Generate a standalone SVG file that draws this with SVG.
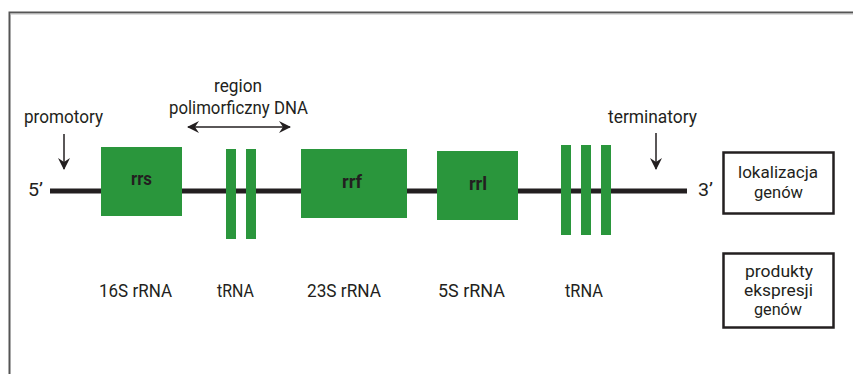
<svg xmlns="http://www.w3.org/2000/svg" width="853" height="374" viewBox="0 0 853 374">
<defs>
<style>
.t{font-family:Roboto,"Liberation Sans",sans-serif;font-size:19px;fill:#231f20}
.m{font-family:Roboto,"Liberation Sans",sans-serif;font-size:17px;fill:#231f20}
.s{font-family:Roboto,"Liberation Sans",sans-serif;font-size:16px;fill:#231f20}
.b{font-family:Roboto,"Liberation Sans",sans-serif;font-size:19px;font-weight:bold;fill:#231f20}
.g{fill:#2a963c}
.ln{stroke:#231f20;fill:none}
.box{fill:#fff;stroke:#231f20;stroke-width:2.5}
</style>
<marker id="ah" viewBox="0 0 12 12" refX="11" refY="6" markerWidth="12" markerHeight="12" markerUnits="userSpaceOnUse" orient="auto-start-reverse">
<path d="M0,0 L12,6 L0,12 L4,6 Z" fill="#231f20"/>
</marker>
</defs>
<rect width="853" height="374" fill="#fff"/>
<path d="M9.5,374 V12.5 H853" stroke="#555" stroke-width="2" fill="none"/>
<line x1="10" y1="14" x2="853" y2="14" stroke="#bbb" stroke-width="1"/>

<g id="connectors">
<line class="ln" x1="50" y1="191" x2="687" y2="191" stroke-width="5"/>
<line class="ln" x1="64" y1="134" x2="64" y2="169" stroke-width="1.5" marker-end="url(#ah)"/>
<line class="ln" x1="656" y1="133" x2="656" y2="169" stroke-width="1.5" marker-end="url(#ah)"/>
<line class="ln" x1="188" y1="127" x2="290" y2="127" stroke-width="1.5" marker-start="url(#ah)" marker-end="url(#ah)"/>
</g>

<g id="label-5">
<text class="t" x="28" y="196" textLength="15" lengthAdjust="spacingAndGlyphs">5’</text>
</g>
<g id="label-3">
<text class="t" x="698" y="196" textLength="15" lengthAdjust="spacingAndGlyphs">3’</text>
</g>
<g id="promotory">
<text class="t" x="24" y="123" textLength="79" lengthAdjust="spacingAndGlyphs">promotory</text>
</g>
<g id="terminatory">
<text class="t" x="608" y="123" textLength="89" lengthAdjust="spacingAndGlyphs">terminatory</text>
</g>
<g id="region">
<text class="t" x="214" y="92" textLength="48" lengthAdjust="spacingAndGlyphs">region</text>
<text class="t" x="169" y="114" textLength="139" lengthAdjust="spacingAndGlyphs">polimorficzny DNA</text>
</g>

<g id="rrs">
<rect class="g" x="101" y="147" width="81" height="69"/>
<text class="b" x="131" y="185" textLength="21" lengthAdjust="spacingAndGlyphs">rrs</text>
</g>
<g id="trna1">
<rect class="g" x="226" y="149" width="10" height="90"/>
<rect class="g" x="246" y="149" width="10" height="90"/>
</g>
<g id="rrf">
<rect class="g" x="301" y="149" width="106" height="69"/>
<text class="b" x="342" y="188" textLength="20" lengthAdjust="spacingAndGlyphs">rrf</text>
</g>
<g id="rrl">
<rect class="g" x="437" y="151" width="81" height="69"/>
<text class="b" x="469" y="190" textLength="18" lengthAdjust="spacingAndGlyphs">rrl</text>
</g>
<g id="trna2">
<rect class="g" x="561" y="145" width="10" height="90"/>
<rect class="g" x="581" y="145" width="10" height="90"/>
<rect class="g" x="601" y="145" width="10" height="90"/>
</g>

<g id="lokalizacja">
<rect class="box" x="723.5" y="152.5" width="110" height="61"/>
<text class="m" x="738" y="178" textLength="80" lengthAdjust="spacingAndGlyphs">lokalizacja</text>
<text class="m" x="754" y="198" textLength="49" lengthAdjust="spacingAndGlyphs">genów</text>
</g>
<g id="produkty">
<rect class="box" x="723.5" y="253.5" width="110" height="74"/>
<text class="s" x="745" y="277" textLength="68" lengthAdjust="spacingAndGlyphs">produkty</text>
<text class="s" x="744" y="296" textLength="69" lengthAdjust="spacingAndGlyphs">ekspresji</text>
<text class="s" x="754" y="315" textLength="48" lengthAdjust="spacingAndGlyphs">genów</text>
</g>

<g id="bottom-labels">
<text class="t" x="99" y="297" textLength="73" lengthAdjust="spacingAndGlyphs">16S rRNA</text>
<text class="t" x="217" y="297" textLength="37" lengthAdjust="spacingAndGlyphs">tRNA</text>
<text class="t" x="307" y="297" textLength="74" lengthAdjust="spacingAndGlyphs">23S rRNA</text>
<text class="t" x="438" y="297" textLength="67" lengthAdjust="spacingAndGlyphs">5S rRNA</text>
<text class="t" x="565" y="297" textLength="38" lengthAdjust="spacingAndGlyphs">tRNA</text>
</g>
</svg>
